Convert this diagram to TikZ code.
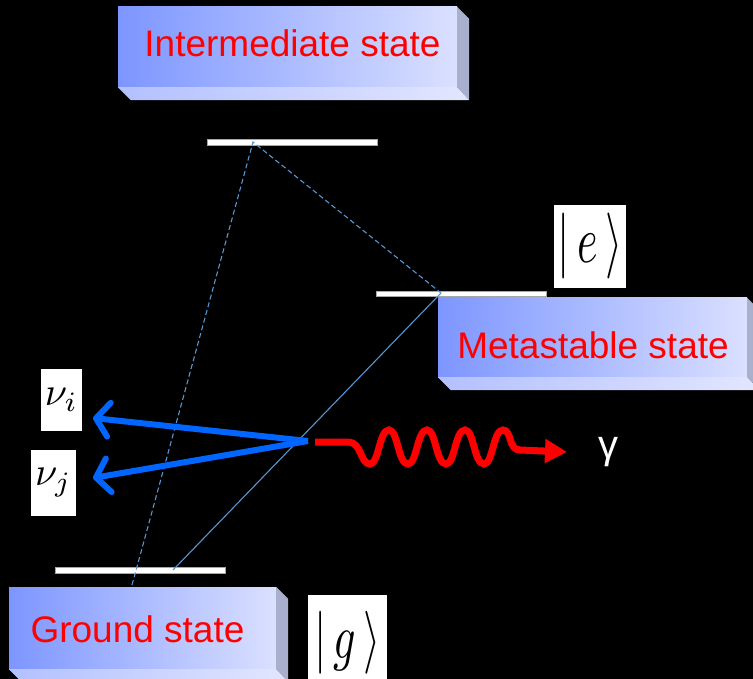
\documentclass[tikz,border=0pt]{standalone}
\usepackage{fontspec}
\setmainfont{Liberation Sans}
\usepackage{graphicx}
\usepackage{xcolor}
\usepackage{tikz}
\usetikzlibrary{arrows.meta, calc}

\definecolor{slableft}{RGB}{125,150,255}
\definecolor{slabright}{RGB}{218,224,255}
\definecolor{slabside}{RGB}{168,176,206}
\definecolor{slabfloorl}{RGB}{178,192,255}
\definecolor{slabfloorr}{RGB}{226,230,255}
\definecolor{linkblue}{RGB}{85,150,210}
\definecolor{nublue}{RGB}{0,102,255}

% side and floor faces of a raised label box
\newcommand{\slabfaces}[1]{%
  \fill[slabside] (#1.north east) -- ($(#1.north east)+(12,12)$) -- ($(#1.south east)+(12,13)$) -- (#1.south east) -- cycle;
  \shade[left color=slabfloorl, right color=slabfloorr] (#1.south west) -- ($(#1.south west)+(13,13)$) -- ($(#1.south east)+(12,13)$) -- (#1.south east) -- cycle;
}

\begin{document}
\begin{tikzpicture}[x=1pt, y=-1pt,
  slab/.style={inner sep=0pt, left color=slableft, right color=slabright},
  slabtext/.style={inner sep=0pt, text=red, font=\fontsize{37}{40}\selectfont, text height=27pt, text depth=0pt},
  level/.style={fill=white, draw=gray!70, line width=0.6pt, inner sep=0pt, minimum width=170pt},
  ket/.style={fill=white, inner sep=0pt},
  link/.style={draw=linkblue, line width=1.1pt},
  nuarrow/.style={-{Straight Barb[length=13pt, width=34pt, round]}, nublue, line width=6pt},
  photon/.style={-{Triangle[length=22pt, width=23pt]}, red, line width=7pt}]

  \fill[black] (0,0) rectangle (753,679);
  \useasboundingbox (0,0) rectangle (753,679);

  \node[slab, minimum width=339pt, minimum height=80pt] (inter)  at (287.5,47)    {};
  \node[slab, minimum width=309pt, minimum height=79pt] (meta)   at (592.5,337.5) {};
  \node[slab, minimum width=267pt, minimum height=82pt] (ground) at (142.5,628)   {};
  \slabfaces{inter}
  \slabfaces{meta}
  \slabfaces{ground}
  \node[slabtext] (interT)  at (292.5,43)  {Intermediate state};
  \node[slabtext] (metaT)   at (593,345)   {Metastable state};
  \node[slabtext] (groundT) at (137.5,628.5) {Ground state};

  \node[level, minimum height=6pt] (upper)  at (292,142)   {};
  \node[level, minimum height=5pt] (middle) at (461,293.5) {};
  \node[level, minimum height=6pt] (lower)  at (140.5,570) {};

  \node[ket, minimum width=72pt, minimum height=83pt] (ketE) at (590,246.5) {\scalebox{4.4}[6.6]{$|\,e\,\rangle$}};
  \node[ket, minimum width=79pt, minimum height=95pt] (ketG) at (347.5,642.5) {\scalebox{4.4}[6.3]{$|\,g\,\rangle$}};
  \node[ket, minimum width=41pt, minimum height=62pt] (nuI) at (61.5,400) {\scalebox{4}{$\nu_i$}};
  \node[ket, minimum width=45pt, minimum height=66pt] (nuJ) at (53.5,483) {\scalebox{4}{$\nu_j$}};

  \coordinate (topv)  at (253,142);
  \coordinate (midv)  at (441,293);
  \coordinate (lowv)  at (173,570);
  \coordinate (grndv) at (132,585);
  \draw[link, dash pattern=on 5pt off 3pt] (grndv) -- (topv) -- (midv);
  \draw[link] (midv) -- (lowv);

  \coordinate (emit)  at (308,441);
  \coordinate (tipI)  at (93,418);
  \coordinate (tipJ)  at (93,478);
  \draw[nuarrow] (emit) -- (tipI);
  \draw[nuarrow] (emit) -- (tipJ);

  \coordinate (wave)  at (315,442);
  \coordinate (gtip)  at (567,452);
  \draw[photon] (wave) -- (348,442) .. controls (362,442) and (360,464) .. (370,464)
    \foreach \x in {370,408,446} {
      .. controls (\x+9,464) and (\x+9,430) .. (\x+19,430)
      .. controls (\x+28,430) and (\x+28,464) .. (\x+38,464)
    }
    .. controls (493,464) and (493,430) .. (503,430)
    .. controls (512,430) and (508,450) .. (520,450) -- (gtip);

  \node[text=white, font=\fontsize{40}{44}\selectfont] (gam) at (608,452) {γ};
\end{tikzpicture}
\end{document}
